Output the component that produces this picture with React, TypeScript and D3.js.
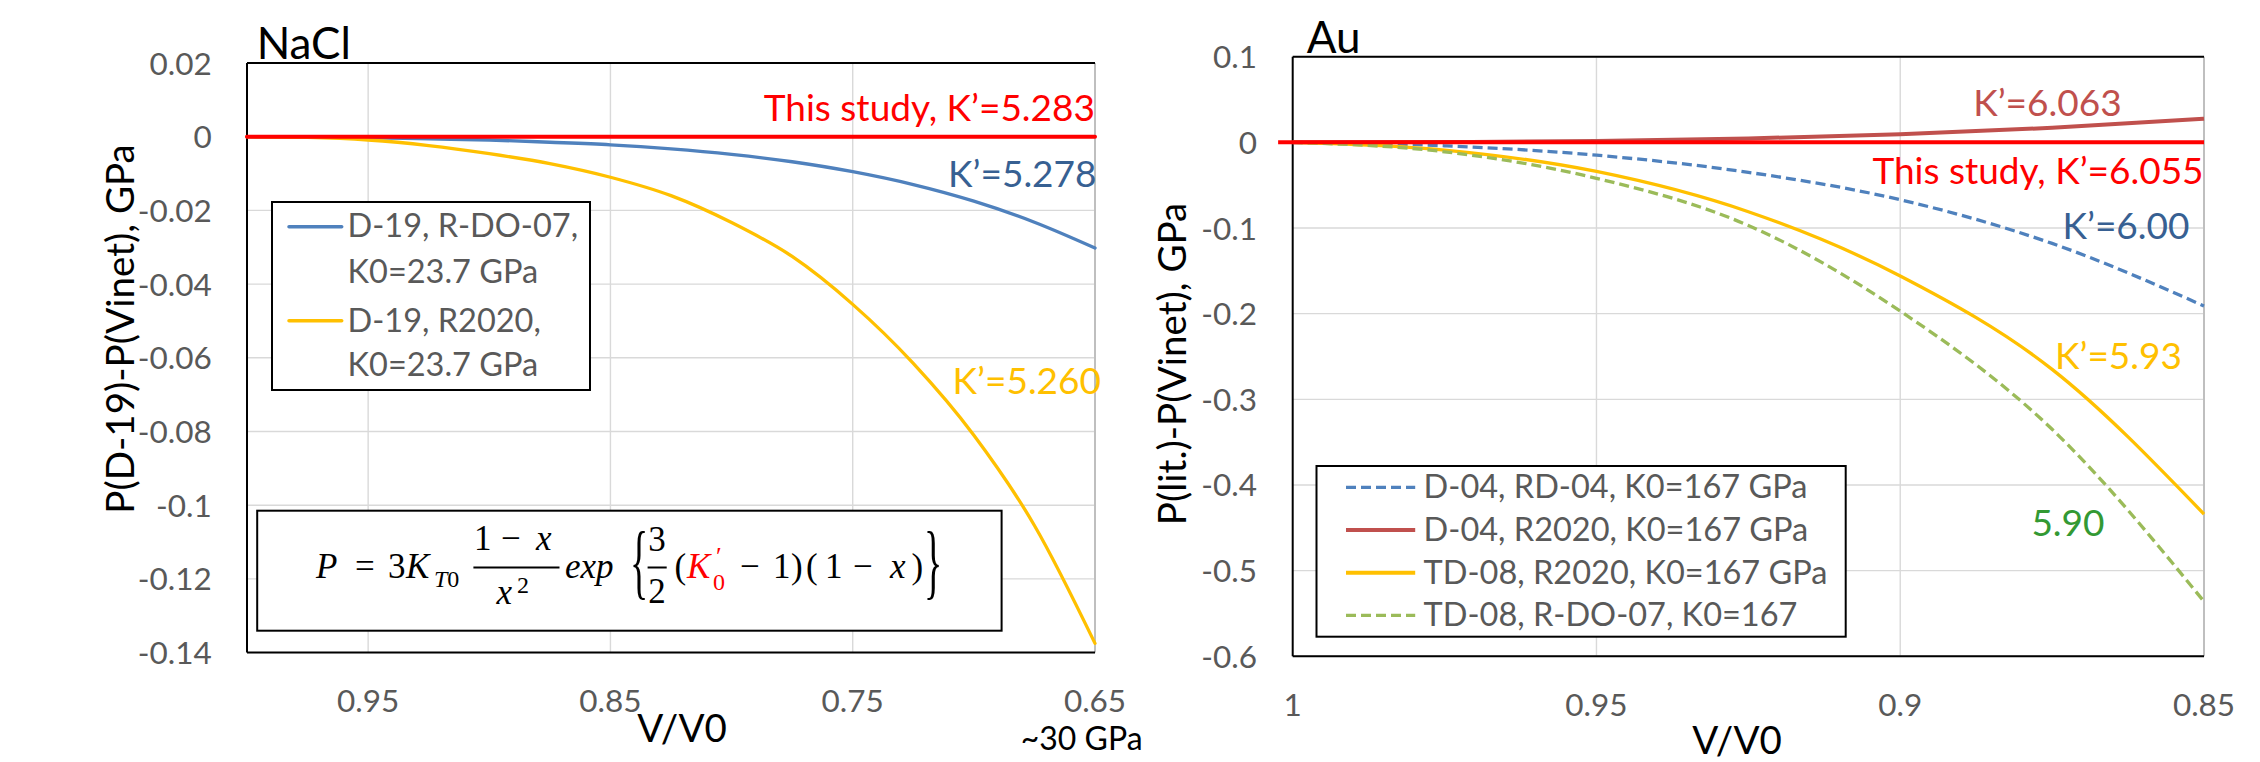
import React from "react";
import * as d3 from "d3";

// ---------------- DATA ----------------
// NaCl panel: P(D-19) - P(Vinet) vs V/V0
const naclV = [1.0, 0.975, 0.95, 0.925, 0.9, 0.875, 0.85, 0.825, 0.8, 0.775, 0.75, 0.725, 0.7, 0.675, 0.65];
const naclBlue = [0, -0.0001, -0.0003, -0.0006, -0.0009, -0.0015, -0.0022, -0.0033, -0.0048, -0.0068, -0.0095, -0.013, -0.0175, -0.0232, -0.0302];
const naclYellow = [0, -0.0002, -0.0009, -0.0024, -0.0046, -0.0073, -0.011, -0.016, -0.0233, -0.0325, -0.0455, -0.0615, -0.081, -0.1055, -0.1375];
const naclRed = [0, 0, 0, 0, 0, 0, 0, 0, 0, 0, 0, 0, 0, 0, 0];

const naclXTicks = [0.95, 0.85, 0.75, 0.65];
const naclXTickLabels = ["0.95", "0.85", "0.75", "0.65"];
const naclYTicks = [0.02, 0, -0.02, -0.04, -0.06, -0.08, -0.1, -0.12, -0.14];
const naclYTickLabels = ["0.02", "0", "-0.02", "-0.04", "-0.06", "-0.08", "-0.1", "-0.12", "-0.14"];
const naclLegend = [
  ["D-19, R-DO-07,", "K0=23.7 GPa"],
  ["D-19, R2020,", "K0=23.7 GPa"],
];

// Au panel: P(lit.) - P(Vinet) vs V/V0
const auV = [1.0, 0.975, 0.95, 0.925, 0.9, 0.875, 0.85];
const auBlueDash = [0, -0.004, -0.015, -0.035, -0.067, -0.118, -0.191];
const auDarkRed = [0, 0.0004, 0.0015, 0.0045, 0.0095, 0.017, 0.0275];
const auYellow = [0, -0.009, -0.034, -0.081, -0.156, -0.265, -0.434];
const auGreenDash = [0, -0.011, -0.042, -0.097, -0.197, -0.335, -0.536];
const auRedV = [1.0024, 0.85];
const auRed = [0, 0];

const auXTicks = [1, 0.95, 0.9, 0.85];
const auXTickLabels = ["1", "0.95", "0.9", "0.85"];
const auYTicks = [0.1, 0, -0.1, -0.2, -0.3, -0.4, -0.5, -0.6];
const auYTickLabels = ["0.1", "0", "-0.1", "-0.2", "-0.3", "-0.4", "-0.5", "-0.6"];
const auLegend = [
  "D-04, RD-04, K0=167 GPa",
  "D-04, R2020, K0=167 GPa",
  "TD-08, R2020, K0=167 GPa",
  "TD-08, R-DO-07, K0=167",
];

// ---------------- STYLE ----------------
const FONT = "Lato, 'Open Sans', sans-serif";
const SERIF = "'Liberation Serif', 'DejaVu Serif', serif";
const GRAY = "#595959";
const GRID = "#D9D9D9";
const C_BLUE = "#4F81BD";
const C_YELLOW = "#FFC000";
const C_RED = "#FF0000";
const C_DARKRED = "#C0504D";
const C_GREEN = "#9BBB59";
const C_BLUETXT = "#376092";
const C_GREENTXT = "#339933";

const TICK_FS = 31.5;
const LEG_FS = 32.5;
const ANN_FS = 37;
const AXT_FS = 38.5;
const TITLE_FS = 44;

// scales
const xN = d3.scaleLinear().domain([1.0, 0.65]).range([247, 1095]);
const yN = d3.scaleLinear().domain([0.02, -0.14]).range([63, 652.6]);
const xA = d3.scaleLinear().domain([1.0, 0.85]).range([1292.7, 2204]);
const yA = d3.scaleLinear().domain([0.1, -0.6]).range([56.7, 656.3]);

function linePath(xs: number[], ys: number[], xs_: any, ys_: any) {
  const pts: [number, number][] = xs.map((v, i) => [xs_(v), ys_(ys[i])]);
  return d3.line().curve(d3.curveMonotoneX)(pts) || "";
}

function Panel({ xs, ys, xTicks, xLabels, yTicks, yLabels, xGrid, labelRight, xLabelBaseline }: any) {
  const [x0, x1] = xs.range();
  const [y0, y1] = ys.range();
  return (
    <g>
      {yTicks.map((t: number, i: number) => (
        <line key={"hg" + i} x1={x0} x2={x1} y1={ys(t)} y2={ys(t)} stroke={GRID} strokeWidth={1.4} />
      ))}
      {xGrid.map((t: number, i: number) => (
        <line key={"vg" + i} x1={xs(t)} x2={xs(t)} y1={y0} y2={y1} stroke={GRID} strokeWidth={1.4} />
      ))}
      <line x1={x1} x2={x1} y1={y0} y2={y1} stroke="#BFBFBF" strokeWidth={2} />
      <line x1={x0} x2={x1} y1={y0} y2={y0} stroke="#000" strokeWidth={2} />
      <line x1={x0} x2={x1} y1={y1} y2={y1} stroke="#000" strokeWidth={2} />
      <line x1={x0} x2={x0} y1={y0} y2={y1} stroke="#000" strokeWidth={2} />
      {yTicks.map((t: number, i: number) => (
        <text key={"yl" + i} x={labelRight} y={ys(t) + 11.5} textAnchor="end" fontSize={TICK_FS} fill={GRAY} fontFamily={FONT}>
          {yLabels[i]}
        </text>
      ))}
      {xTicks.map((t: number, i: number) => (
        <text key={"xl" + i} x={xs(t)} y={xLabelBaseline} textAnchor="middle" fontSize={TICK_FS} fill={GRAY} fontFamily={FONT}>
          {xLabels[i]}
        </text>
      ))}
    </g>
  );
}

function Formula() {
  const fs = 35;
  const sub = 24;
  const by = 578.3;
  const it = { fontStyle: "italic" as const };
  return (
    <g fontFamily={SERIF} fontSize={fs} fill="#000">
      <rect x={257.2} y={510.7} width={744.4} height={120} fill="#fff" stroke="#000" strokeWidth={2} />
      <text x={316} y={by} {...it}>P</text>
      <text x={355} y={by}>=</text>
      <text x={388} y={by}>3</text>
      <text x={406} y={by} {...it}>K</text>
      <text x={434} y={587} fontSize={sub}><tspan fontStyle="italic">T</tspan>0</text>
      <line x1={473.4} x2={559.5} y1={567.5} y2={567.5} stroke="#000" strokeWidth={2.2} />
      <text x={474} y={550}>1</text>
      <text x={501} y={550}>−</text>
      <text x={536} y={550} {...it}>x</text>
      <text x={496.5} y={604} {...it}>x</text>
      <text x={517} y={593} fontSize={sub}>2</text>
      <text x={565} y={by} {...it}>exp</text>
      <text transform="translate(630,589) scale(1,2.15)" fontSize={38}>{"{"}</text>
      <text x={657} y={551} textAnchor="middle">3</text>
      <line x1={647.6} x2={666.7} y1={567.5} y2={567.5} stroke="#000" strokeWidth={2} />
      <text x={657} y={603} textAnchor="middle">2</text>
      <text x={674.5} y={by}>(</text>
      <text x={687} y={by} fill={C_RED} {...it}>K</text>
      <text x={716} y={565} fill={C_RED} fontSize={26}>′</text>
      <text x={713} y={590} fill={C_RED} fontSize={sub}>0</text>
      <text x={740} y={by}>−</text>
      <text x={773} y={by}>1</text>
      <text x={791} y={by}>)</text>
      <text x={806} y={by}>(</text>
      <text x={825} y={by}>1</text>
      <text x={853} y={by}>−</text>
      <text x={890} y={by} {...it}>x</text>
      <text x={911.5} y={by}>)</text>
      <text transform="translate(924,589) scale(1,2.15)" fontSize={38}>{"}"}</text>
    </g>
  );
}

export default function App() {
  const naclSeries = [
    { ys: naclBlue, color: C_BLUE, w: 3.3 },
    { ys: naclYellow, color: C_YELLOW, w: 3.3 },
    { ys: naclRed, color: C_RED, w: 4 },
  ];
  const auSeries = [
    { xs: auV, ys: auBlueDash, color: C_BLUE, w: 3.3, dash: "10,5" },
    { xs: auV, ys: auDarkRed, color: C_DARKRED, w: 4, dash: "" },
    { xs: auV, ys: auYellow, color: C_YELLOW, w: 3.3, dash: "" },
    { xs: auV, ys: auGreenDash, color: C_GREEN, w: 3.3, dash: "10,5" },
    { xs: auRedV, ys: auRed, color: C_RED, w: 4, dash: "" },
  ];
  const auLegendStyle = [
    { color: C_BLUE, dash: "10,5", w: 3.3 },
    { color: C_DARKRED, dash: "", w: 4 },
    { color: C_YELLOW, dash: "", w: 4 },
    { color: C_GREEN, dash: "10,5", w: 3.3 },
  ];
  return (
    <svg
      width={2260}
      height={762}
      style={{ position: "absolute", left: 0, top: 0, display: "block", background: "#fff" }}
      xmlns="http://www.w3.org/2000/svg"
    >
      <rect x={0} y={0} width={2260} height={762} fill="#fff" />

      {/* ---------- NaCl panel ---------- */}
      <Panel
        xs={xN}
        ys={yN}
        xTicks={naclXTicks}
        xLabels={naclXTickLabels}
        yTicks={naclYTicks}
        yLabels={naclYTickLabels}
        xGrid={[0.95, 0.85, 0.75]}
        labelRight={211.7}
        xLabelBaseline={711.7}
      />
      <text x={256.7} y={59} fontSize={TITLE_FS} fontFamily={FONT} fill="#000">NaCl</text>
      <text transform="translate(134,329) rotate(-90)" textAnchor="middle" fontSize={AXT_FS} fontFamily={FONT} fill="#000">
        P(D-19)-P(Vinet), GPa
      </text>
      <text x={682} y={741.7} textAnchor="middle" fontSize={AXT_FS} fontFamily={FONT} fill="#000">V/V0</text>
      <text x={1020.7} y={750} fontSize={32} fontFamily={FONT} fill="#000">~30 GPa</text>

      {naclSeries.map((s, i) => (
        <path key={"ns" + i} d={linePath(naclV, s.ys, xN, yN)} fill="none" stroke={s.color} strokeWidth={s.w} strokeLinecap="round" />
      ))}

      {/* NaCl legend */}
      <rect x={272} y={202} width={318} height={188} fill="#fff" stroke="#000" strokeWidth={2} />
      {naclLegend.map((lines, i) => (
        <g key={"nl" + i}>
          <line x1={289} x2={341.7} y1={226.7 + i * 94} y2={226.7 + i * 94} stroke={i === 0 ? C_BLUE : C_YELLOW} strokeWidth={3.5} strokeLinecap="round" />
          <text x={347.5} y={237.3 + i * 94.4} fontSize={LEG_FS} fontFamily={FONT} fill={GRAY}>{lines[0]}</text>
          <text x={347.5} y={283.3 + i * 92.7} fontSize={LEG_FS} fontFamily={FONT} fill={GRAY}>{lines[1]}</text>
        </g>
      ))}

      <Formula />

      {/* NaCl annotations */}
      <text x={1095} y={120.7} textAnchor="end" fontSize={ANN_FS} fontFamily={FONT} fill={C_RED}>This study, K’=5.283</text>
      <text x={1096.5} y={186.7} textAnchor="end" fontSize={ANN_FS} fontFamily={FONT} fill={C_BLUETXT}>K’=5.278</text>
      <text x={1101} y={394} textAnchor="end" fontSize={ANN_FS} fontFamily={FONT} fill={C_YELLOW}>K’=5.260</text>

      {/* ---------- Au panel ---------- */}
      <Panel
        xs={xA}
        ys={yA}
        xTicks={auXTicks}
        xLabels={auXTickLabels}
        yTicks={auYTicks}
        yLabels={auYTickLabels}
        xGrid={[0.95, 0.9]}
        labelRight={1257}
        xLabelBaseline={716}
      />
      <text x={1306.7} y={52.7} fontSize={TITLE_FS} fontFamily={FONT} fill="#000">Au</text>
      <text transform="translate(1186,364) rotate(-90)" textAnchor="middle" fontSize={AXT_FS} fontFamily={FONT} fill="#000">
        P(lit.)-P(Vinet), GPa
      </text>
      <text x={1737} y={754} textAnchor="middle" fontSize={AXT_FS} fontFamily={FONT} fill="#000">V/V0</text>

      {auSeries.map((s, i) => (
        <path
          key={"as" + i}
          d={linePath(s.xs, s.ys, xA, yA)}
          fill="none"
          stroke={s.color}
          strokeWidth={s.w}
          strokeDasharray={s.dash || undefined}
        />
      ))}

      {/* Au legend */}
      <rect x={1316.5} y={466} width={529.2} height={170.7} fill="#fff" stroke="#000" strokeWidth={2} />
      {auLegend.map((label, i) => (
        <g key={"al" + i}>
          <line
            x1={1346}
            x2={1415.2}
            y1={487.3 + i * 42.7}
            y2={487.3 + i * 42.7}
            stroke={auLegendStyle[i].color}
            strokeWidth={auLegendStyle[i].w}
            strokeDasharray={auLegendStyle[i].dash || undefined}
          />
          <text x={1423.6} y={498.3 + i * 42.7} fontSize={LEG_FS} fontFamily={FONT} fill={GRAY}>{label}</text>
        </g>
      ))}

      {/* Au annotations */}
      <text x={1973.2} y={116} fontSize={ANN_FS} fontFamily={FONT} fill={C_DARKRED}>K’=6.063</text>
      <text x={2203.6} y={184.3} textAnchor="end" fontSize={ANN_FS} fontFamily={FONT} fill={C_RED}>This study, K’=6.055</text>
      <text x={2062.5} y={239.3} fontSize={ANN_FS} fontFamily={FONT} fill={C_BLUETXT}>K’=6.00</text>
      <text x={2055} y={369.3} fontSize={ANN_FS} fontFamily={FONT} fill={C_YELLOW}>K’=5.93</text>
      <text x={2031.4} y={536} fontSize={ANN_FS} fontFamily={FONT} fill={C_GREENTXT}>5.90</text>
    </svg>
  );
}
